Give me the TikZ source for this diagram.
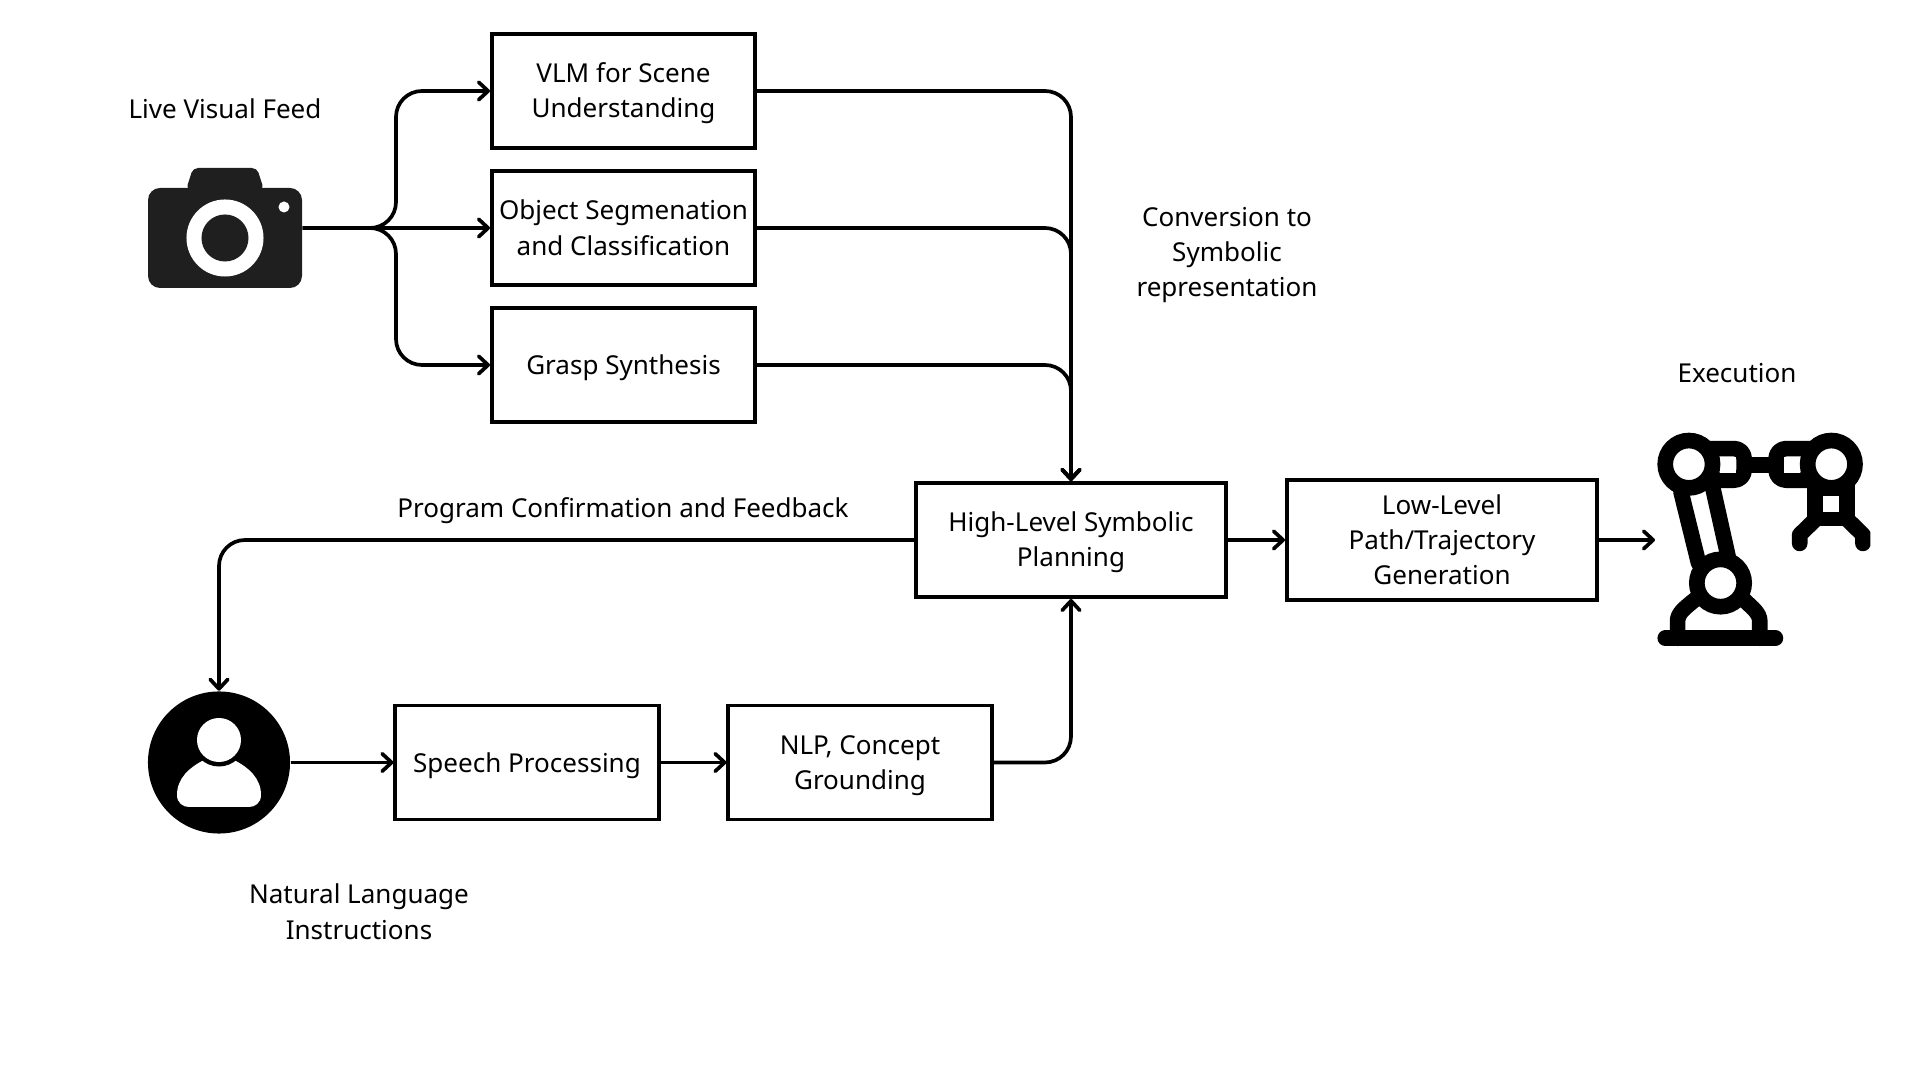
\documentclass[tikz,border=0pt]{standalone}
\usepackage{fontspec}
\setmainfont{Noto Sans}
\usetikzlibrary{arrows.meta}
\definecolor{camblack}{HTML}{1F1F1F}
\newcommand{\nodestrut}{\rule[-1.6pt]{0pt}{8.9pt}}
\newcommand{\toprow}{\rule{0pt}{7pt}}
\tikzset{
    caption/.style={align=center, inner sep=0pt, font=\fontsize{7.4pt}{10pt}\selectfont, execute at end node=\nodestrut},
    block/.style={caption, draw, line width=1.1pt, minimum width=2.63cm, minimum height=1.14cm},
    wideblock/.style={block, minimum width=3.1cm},
    flow/.style={-{Straight Barb[length=2.7pt,width=5pt,round]}, line width=1.05pt, rounded corners=0.26cm},
    robotline/.style={line width=4.45pt, line cap=round, line join=round},
}
\begin{document}
\begin{tikzpicture}[x=0.01cm,y=-0.01cm]
    \useasboundingbox (0,0) rectangle (1920,1080);

    % boxes
    \node[block] (VLM) at (623.5,91) {\toprow VLM for Scene\\Understanding};
    \node[block] (SEG) at (623.5,228) {\toprow Object Segmenation\\and Classification};
    \node[block] (GRASP) at (623.5,365) {Grasp Synthesis};
    \node[wideblock] (HIGH) at (1071,540) {\toprow High-Level Symbolic\\Planning};
    \node[wideblock, minimum height=1.2cm] (LOW) at (1442,540) {\toprow Low-Level\\Path/Trajectory\\Generation};
    \node[block] (SPEECH) at (527,762.5) {Speech Processing};
    \node[block] (NLP) at (860,762.5) {\toprow NLP, Concept\\Grounding};

    % labels
    \node[caption] (FEED) at (225,108) {Live Visual Feed};
    \node[caption] (SYMB) at (1227,252) {\toprow Conversion to\\Symbolic\\representation};
    \node[caption] (EXEC) at (1737,372) {Execution};
    \node[caption] (CONF) at (623,508) {Program Confirmation and Feedback};
    \node[caption] (LANG) at (359,912) {\toprow Natural Language\\Instructions};

    % camera
    \node[minimum width=1.54cm, minimum height=1.2cm, inner sep=0pt] (CAM) at (225,228) {};
    \fill[camblack, rounded corners=0.12cm] (148,188) rectangle (302,288);
    \fill[camblack, rounded corners=0.05cm] (186,190) -- (193,168) -- (257,168) -- (264,190) -- cycle;
    \fill[white] (225,238) circle (0.385cm);
    \fill[camblack] (225,238) circle (0.235cm);
    \fill[white] (284,207) circle (0.055cm);

    % person
    \node[circle, fill=black, minimum size=1.42cm, inner sep=0pt] (USER) at (219,762.5) {};
    \fill[white] (177,795) .. controls (177,778) and (190,767) .. (204,760) -- (234,760) .. controls (248,767) and (261,778) .. (261,795) .. controls (261,803) and (255,807) .. (249,807) -- (189,807) .. controls (183,807) and (177,803) .. (177,795) -- cycle;
    \fill[black] (219,740) circle (0.265cm);
    \fill[white] (219,740) circle (0.22cm);

    % robot, traced at 3x
    \coordinate (ARM) at (1655,540);
    \begin{scope}[shift={(1620,400)}, x=0.00333cm, y=-0.00333cm]
        \clip (100,90) rectangle (752,750);
        \draw[robotline] (136,716) -- (467,716);
        \draw[robotline] (173,716) -- (173,665) .. controls (173,640) and (195,625) .. (225,600);
        \draw[robotline] (420,716) -- (420,665) .. controls (420,640) and (398,625) .. (372,600);
        \draw[robotline] (183,275) -- (236,490);
        \draw[robotline] (279,265) -- (327,480);
        \draw[robotline, rounded corners=0.1cm] (207,146) -- (373,146) -- (373,241) -- (207,241);
        \draw[robotline, rounded corners=0.1cm] (635,146) -- (469,146) -- (469,241) -- (635,241);
        \fill[black] (373,170) rectangle (469,218);
        \fill[black] (563,241) rectangle (707,380);
        \fill[white] (300,170) rectangle (350,218);
        \fill[white] (492,170) rectangle (542,218);
        \fill[white] (610,288) rectangle (658,338);
        \fill[white] (592,382) -- (672,382) -- (695,405) -- (695,460) -- (570,460) -- (570,405) -- cycle;
        \draw[robotline] (586,360) -- (540,405) -- (540,431);
        \draw[robotline] (684,360) -- (730,405) -- (730,431);
        \foreach \px/\py in {207/193, 302/550, 635/193}{
            \draw[line width=4.45pt, fill=white] (\px,\py) circle (0.2367cm);
        }
    \end{scope}

    % connectors
    \draw[flow] (CAM.east) -- (SEG.west);
    \draw[flow] (CAM.east) -- (396,228) |- (VLM.west);
    \draw[flow] (CAM.east) -- (396,228) |- (GRASP.west);
    \draw[flow] (VLM.east) -| (HIGH.north);
    \draw[flow] (SEG.east) -| (HIGH.north);
    \draw[flow] (GRASP.east) -| (HIGH.north);
    \draw[flow] (HIGH.west) -| (USER.north);
    \draw[flow] (USER.east) -- (SPEECH.west);
    \draw[flow] (SPEECH.east) -- (NLP.west);
    \draw[flow] (NLP.east) -| (HIGH.south);
    \draw[flow] (HIGH.east) -- (LOW.west);
    \draw[flow] (LOW.east) -- (ARM);
\end{tikzpicture}
\end{document}
